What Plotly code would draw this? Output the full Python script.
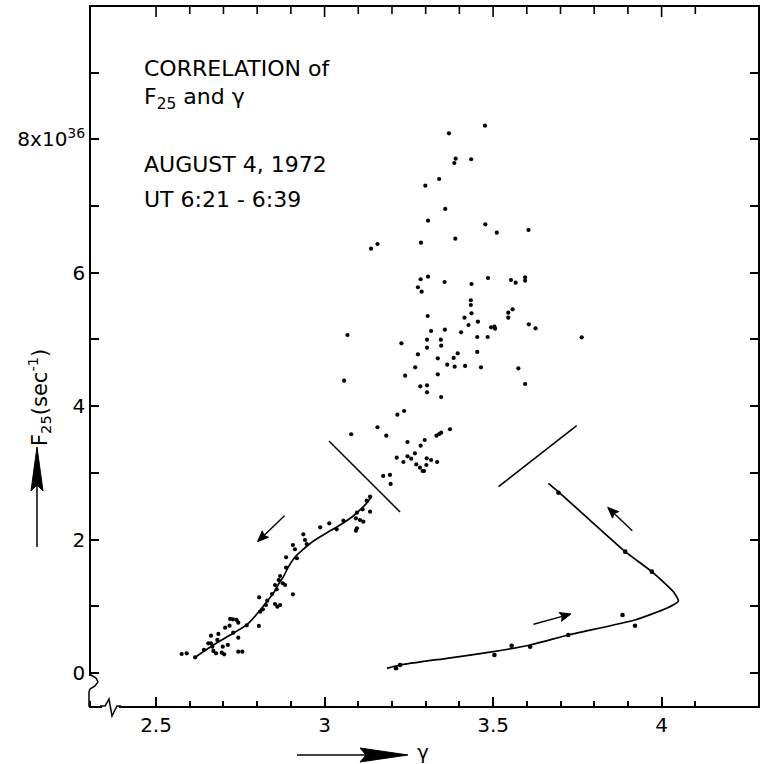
import math
import plotly.graph_objects as go

# ---------------- data ----------------
cloud_gamma = [
    3.476, 3.369, 3.389, 3.385, 3.435, 3.340, 3.299, 3.358, 3.307, 3.477,
    3.511, 3.605, 3.388, 3.286, 3.138, 3.157, 3.285, 3.307, 3.277, 3.288,
    3.356, 3.436, 3.485, 3.553, 3.567, 3.595, 3.595, 3.434, 3.434, 3.436,
    3.306, 3.415, 3.455, 3.427, 3.545, 3.545, 3.558, 3.494, 3.504, 3.506,
    3.606, 3.626, 3.316, 3.357, 3.405, 3.068, 3.228, 3.304, 3.345, 3.346,
    3.304, 3.453, 3.484, 3.277, 3.395, 3.383, 3.453, 3.336, 3.269, 3.364,
    3.386, 3.417, 3.464, 3.575, 3.239, 3.336, 3.284, 3.304, 3.304, 3.346,
    3.595, 3.058, 3.216, 3.236, 3.079, 3.157, 3.183, 3.246, 3.297, 3.285,
    3.332, 3.340, 3.346, 3.372, 3.214, 3.234, 3.246, 3.257, 3.268, 3.272,
    3.283, 3.295, 3.303, 3.302, 3.316, 3.334, 3.174, 3.194, 3.196, 3.291,
    3.763,
]
cloud_flux = [
    8.205, 8.091, 7.711, 7.646, 7.702, 7.406, 7.306, 6.957, 6.781, 6.727,
    6.601, 6.642, 6.511, 6.451, 6.361, 6.432, 5.903, 5.942, 5.783, 5.717,
    5.862, 5.832, 5.922, 5.892, 5.852, 5.933, 5.882, 5.588, 5.517, 5.393,
    5.352, 5.327, 5.267, 5.217, 5.402, 5.327, 5.453, 5.183, 5.192, 5.162,
    5.228, 5.168, 5.127, 5.147, 5.108, 5.067, 4.943, 4.997, 4.997, 4.907,
    4.877, 5.037, 5.037, 4.778, 4.793, 4.723, 4.813, 4.718, 4.583, 4.622,
    4.592, 4.603, 4.583, 4.568, 4.457, 4.478, 4.298, 4.313, 4.208, 4.138,
    4.333, 4.382, 3.873, 3.928, 3.579, 3.684, 3.558, 3.463, 3.493, 3.408,
    3.558, 3.583, 3.603, 3.654, 3.228, 3.163, 3.249, 3.213, 3.294, 3.129,
    3.078, 3.028, 3.219, 3.118, 3.193, 3.163, 2.954, 2.969, 2.834, 3.028,
    5.033,
]

decay_gamma = [
    3.135, 3.125, 3.113, 3.135, 3.096, 3.093, 3.105, 3.115, 3.096, 3.093,
    3.056, 3.036, 3.014, 2.987, 2.937, 2.942, 2.947, 2.906, 2.912, 2.918,
    2.886, 2.886, 2.868, 2.864, 2.876, 2.883, 2.853, 2.858, 2.844, 2.906,
    2.806, 2.830, 2.826, 2.853, 2.868, 2.860, 2.817, 2.809, 2.769, 2.805,
    2.720, 2.728, 2.739, 2.744, 2.718, 2.705, 2.729, 2.744, 2.685, 2.663,
    2.682, 2.663, 2.667, 2.670, 2.678, 2.698, 2.695, 2.702, 2.713, 2.744,
    2.756, 2.655, 2.642, 2.616, 2.591, 2.576,
]
decay_flux = [
    2.643, 2.583, 2.454, 2.418, 2.403, 2.319, 2.294, 2.268, 2.169, 2.133,
    2.283, 2.154, 2.244, 2.184, 2.079, 1.994, 1.934, 1.919, 1.855, 1.720,
    1.735, 1.579, 1.454, 1.394, 1.345, 1.319, 1.319, 1.255, 1.184, 1.180,
    1.135, 1.084, 1.019, 1.034, 1.019, 0.994, 0.955, 0.919, 0.715, 0.705,
    0.810, 0.805, 0.795, 0.754, 0.709, 0.679, 0.604, 0.529, 0.585, 0.559,
    0.495, 0.445, 0.394, 0.330, 0.295, 0.394, 0.304, 0.280, 0.420, 0.319,
    0.319, 0.445, 0.345, 0.235, 0.295, 0.285,
]

decay_fit_gamma = [3.138, 3.130, 3.110, 3.085, 3.046, 3.007, 2.967, 2.937, 2.912, 2.893,
                   2.878, 2.865, 2.848, 2.830, 2.809, 2.774, 2.729, 2.670, 2.616]
decay_fit_flux = [2.643, 2.579, 2.469, 2.354, 2.219, 2.103, 1.979, 1.855, 1.735, 1.594,
                  1.444, 1.345, 1.195, 1.079, 0.945, 0.745, 0.595, 0.420, 0.235]

rise_gamma = [3.212, 3.224, 3.504, 3.555, 3.610, 3.723, 3.884, 3.921, 3.971, 3.892, 3.694]
rise_flux = [0.070, 0.120, 0.270, 0.409, 0.394, 0.570, 0.870, 0.709, 1.519, 1.819, 2.703]

rise_fit_gamma = [3.185, 3.224, 3.363, 3.501, 3.610, 3.723, 3.921, 4.015, 4.050, 4.035,
                  3.971, 3.892, 3.699, 3.664]
rise_fit_flux = [0.070, 0.120, 0.220, 0.319, 0.420, 0.570, 0.795, 0.970, 1.080, 1.219,
                 1.519, 1.819, 2.694, 2.844]

separators = [((3.013, 3.478), (3.224, 2.414)), ((3.516, 2.793), (3.748, 3.708))]
direction_arrows = [((2.881, 2.358), (2.801, 1.969)),
                    ((3.620, 0.730), (3.731, 0.885)),
                    ((3.913, 2.133), (3.840, 2.484))]

x_major = [2.5, 3.0, 3.5, 4.0]
x_major_text = ["2.5", "3", "3.5", "4"]
x_minor = [2.6, 2.7, 2.8, 2.9, 3.1, 3.2, 3.3, 3.4, 3.6, 3.7, 3.8, 3.9, 4.1]
y_major = [0, 2, 4, 6, 8]
y_major_text = ["0", "2", "4", "6", "8x10<sup>36</sup>"]
y_minor = [1, 3, 5, 7, 9]

X_RANGE = [2.307, 4.286]
Y_RANGE = [-0.495, 9.985]

FONT = "DejaVu Sans"
W, H = 761, 764
ML, MR, MT, MB = 91, 3, 7, 58
PW, PH = W - ML - MR, H - MT - MB


def paper(px, py):
    return ((px - ML) / PW, ((H - MB) - py) / PH)


def to_px(g, f):
    px = ML + (g - X_RANGE[0]) / (X_RANGE[1] - X_RANGE[0]) * PW
    py = (H - MB) - (f - Y_RANGE[0]) / (Y_RANGE[1] - Y_RANGE[0]) * PH
    return px, py


def path_from(pts, close=False):
    s = ""
    for i, (px, py) in enumerate(pts):
        x, y = paper(px, py)
        s += ("M" if i == 0 else "L") + f"{x:.5f},{y:.5f} "
    return s + ("Z" if close else "")


fig = go.Figure()
fig.add_trace(go.Scatter(x=decay_fit_gamma, y=decay_fit_flux, mode="lines",
                         line=dict(color="black", width=1.7, shape="spline", smoothing=0.8),
                         hoverinfo="skip"))
fig.add_trace(go.Scatter(x=rise_fit_gamma, y=rise_fit_flux, mode="lines",
                         line=dict(color="black", width=1.7, shape="spline", smoothing=0.45),
                         hoverinfo="skip"))
fig.add_trace(go.Scatter(x=cloud_gamma, y=cloud_flux, mode="markers",
                         marker=dict(color="black", size=4.2)))
fig.add_trace(go.Scatter(x=decay_gamma, y=decay_flux, mode="markers",
                         marker=dict(color="black", size=4.2)))
fig.add_trace(go.Scatter(x=rise_gamma, y=rise_flux, mode="markers",
                         marker=dict(color="black", size=4.6)))

shapes = []
for (g0, f0), (g1, f1) in separators:
    shapes.append(dict(type="line", xref="x", yref="y", x0=g0, y0=f0, x1=g1, y1=f1,
                       line=dict(color="black", width=1.5)))

# ticks hanging from the top frame (same tick values as the bottom axis)
for g in x_major + x_minor:
    tl = 10 if g in x_major else 7
    shapes.append(dict(type="line", xref="x", yref="paper", x0=g, x1=g, y0=1, y1=1 - tl / PH,
                       line=dict(color="black", width=1.6), layer="above"))

for (g0, f0), (g1, f1) in direction_arrows:
    x0, y0 = to_px(g0, f0)
    x1, y1 = to_px(g1, f1)
    L = math.hypot(x1 - x0, y1 - y0)
    ux, uy = (x1 - x0) / L, (y1 - y0) / L
    hl, hw = 11, 4.5
    bx, by = x1 - ux * hl, y1 - uy * hl
    shapes.append(dict(type="path", xref="paper", yref="paper",
                       path=path_from([(x0, y0), (bx + ux * 2, by + uy * 2)]),
                       line=dict(color="black", width=1.4)))
    shapes.append(dict(type="path", xref="paper", yref="paper",
                       path=path_from([(x1, y1), (bx - uy * hw, by + ux * hw),
                                       (bx + ux * 2, by + uy * 2), (bx + uy * hw, by - ux * hw)], close=True),
                       fillcolor="black", line=dict(color="black", width=1)))

for (x0, y0, x1, y1) in [(85, 676, 97, 701), (102, 702, 119, 711)]:
    a, b = paper(x0, y0)
    c, d = paper(x1, y1)
    shapes.append(dict(type="rect", xref="paper", yref="paper", x0=a, y0=b, x1=c, y1=d,
                       fillcolor="white", line=dict(width=0), layer="above"))
shapes.append(dict(type="path", xref="paper", yref="paper",
                   path=path_from([(91, 675), (96, 678), (98, 682), (95, 686), (90, 689), (89, 692), (89, 706), (91, 706)]),
                   line=dict(color="black", width=1.5), layer="above"))
shapes.append(dict(type="path", xref="paper", yref="paper",
                   path=path_from([(100, 706), (105, 706), (109, 699), (112, 716), (117, 706), (121, 706)]),
                   line=dict(color="black", width=1.5), layer="above"))

shapes.append(dict(type="path", xref="paper", yref="paper",
                   path=path_from([(297, 755), (366, 755)]), line=dict(color="black", width=1.5)))
shapes.append(dict(type="path", xref="paper", yref="paper",
                   path=path_from([(360, 748), (408, 755), (360, 762), (366, 755)], close=True),
                   fillcolor="black", line=dict(color="black", width=1)))
shapes.append(dict(type="path", xref="paper", yref="paper",
                   path=path_from([(37, 547), (37, 485)]), line=dict(color="black", width=1.5)))
shapes.append(dict(type="path", xref="paper", yref="paper",
                   path=path_from([(31, 491), (37, 447), (43, 491), (37, 485)], close=True),
                   fillcolor="black", line=dict(color="black", width=1)))

annotations = []
title_lines = [("CORRELATION of", 68), ("F<sub>25</sub> and γ", 99),
               ("AUGUST 4, 1972", 165), ("UT 6:21 - 6:39", 199.5)]
for txt, py in title_lines:
    x, y = paper(142, py)
    annotations.append(dict(x=x, y=y, xref="paper", yref="paper", text=txt, showarrow=False,
                            xanchor="left", yanchor="middle",
                            font=dict(family=FONT, size=22, color="black")))

x, y = paper(39, 398)
annotations.append(dict(x=x, y=y, xref="paper", yref="paper", text="F<sub>25</sub>(sec<sup>-1</sup>)",
                        textangle=-90, showarrow=False, xanchor="center", yanchor="middle",
                        font=dict(family=FONT, size=21, color="black")))
x, y = paper(423, 752)
annotations.append(dict(x=x, y=y, xref="paper", yref="paper", text="γ", showarrow=False,
                        xanchor="center", yanchor="middle",
                        font=dict(family=FONT, size=20, color="black")))

tick_common = dict(ticks="inside", tickcolor="black", showgrid=False, zeroline=False)

fig.update_layout(
    width=W, height=H,
    margin=dict(l=ML, r=MR, t=MT, b=MB, autoexpand=False),
    paper_bgcolor="white", plot_bgcolor="white",
    showlegend=False,
    shapes=shapes, annotations=annotations,
    xaxis=dict(range=X_RANGE, tickmode="array", tickvals=x_major, ticktext=x_major_text,
               ticklen=9, tickwidth=1.6, showline=True, linewidth=1.6, linecolor="black", mirror=True,
               tickfont=dict(family=FONT, size=20, color="black"),
               minor=dict(tickmode="array", tickvals=x_minor, ticks="inside", ticklen=5,
                          tickwidth=1.5, tickcolor="black", showgrid=False),
               **tick_common),
    yaxis=dict(range=Y_RANGE, tickmode="array", tickvals=y_major, ticktext=y_major_text,
               ticklen=8, tickwidth=1.6, showline=True, linewidth=1.6, linecolor="black",
               mirror="ticks",
               tickfont=dict(family=FONT, size=20, color="black"),
               minor=dict(tickmode="array", tickvals=y_minor, ticks="inside", ticklen=8,
                          tickwidth=1.6, tickcolor="black", showgrid=False),
               **tick_common),
)

fig.write_html("out.html")
